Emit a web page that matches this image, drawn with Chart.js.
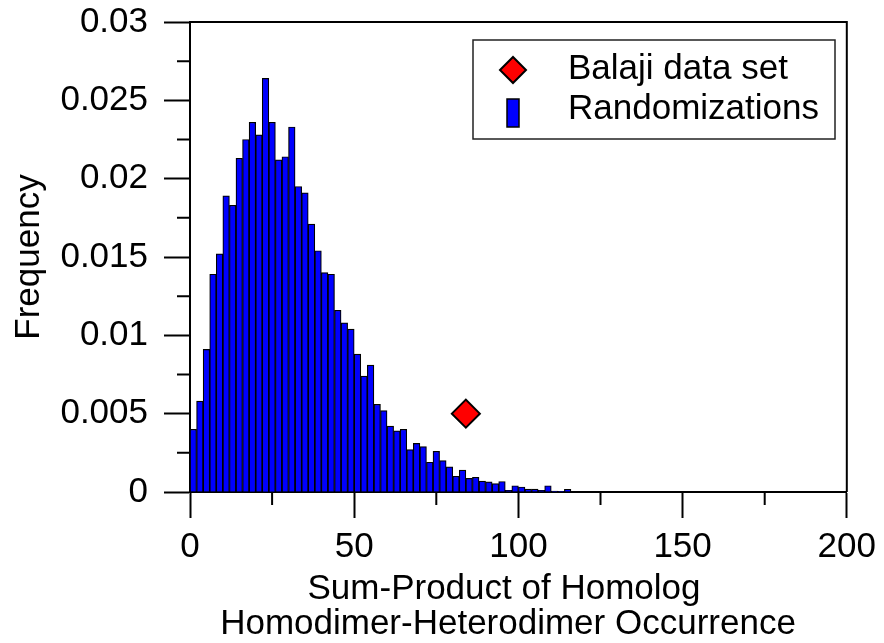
<!DOCTYPE html>
<html>
<head>
<meta charset="utf-8">
<script src="https://cdn.jsdelivr.net/npm/chart.js@4.4.1/dist/chart.umd.min.js"></script>
<style>
  html, body { margin: 0; padding: 0; background: #fff; }
  #wrap { width: 884px; height: 643px; }
</style>
</head>
<body>
<div id="wrap"><canvas id="chart" width="884" height="643"></canvas></div>
<script>
// histogram bins (width 2), centre of each bin
const binCenters = [
  1, 3, 5, 7, 9, 11, 13, 15, 17, 19,
  21, 23, 25, 27, 29, 31, 33, 35, 37, 39,
  41, 43, 45, 47, 49, 51, 53, 55, 57, 59,
  61, 63, 65, 67, 69, 71, 73, 75, 77, 79,
  81, 83, 85, 87, 89, 91, 93, 95, 97, 99,
  101, 103, 105, 107, 109, 111, 113, 115
];
// frequency of randomizations per bin
const randomFreq = [
  0.0040, 0.0058, 0.0091, 0.0139, 0.0152, 0.0189, 0.0183, 0.0213, 0.0225, 0.0236,
  0.0228, 0.0264, 0.0236, 0.0212, 0.0214, 0.0233, 0.0195, 0.0191, 0.0171, 0.0154,
  0.0140, 0.0139, 0.0116, 0.0108, 0.0104, 0.0088, 0.0074, 0.0081, 0.0056, 0.0052,
  0.0042, 0.0039, 0.0040, 0.0027, 0.0031, 0.0029, 0.0019, 0.0026, 0.0020, 0.0016,
  0.0010, 0.0014, 0.00087, 0.00094, 0.0007, 0.00065, 0.00053, 0.00067, 0.0001, 0.0004,
  0.00032, 0.00018, 0.00018, 0.0001, 0.0004, 0.00006, 0.00004, 0.00017
];
// the real data set
const balajiX = [84];
const balajiY = [0.005];

const xTicks = [0, 50, 100, 150, 200];
const xMinorTicks = [25, 75, 125, 175];
const yTicks = [0, 0.005, 0.01, 0.015, 0.02, 0.025, 0.03];
const yMinorTicks = [0.0025, 0.0075, 0.0125, 0.0175, 0.0225, 0.0275];
const xTitleLines = ['Sum-Product of Homolog', 'Homodimer-Heterodimer Occurrence'];

const FONT = "'Liberation Sans', Arial, sans-serif";
const FS = 35;
Chart.defaults.color = '#000';
Chart.defaults.font.family = FONT;

// minor ticks, top/right frame, x title and the boxed legend
const extras = {
  id: 'extras',
  afterDraw(chart) {
    const { ctx, chartArea: a, scales: { x, y } } = chart;
    ctx.save();
    ctx.strokeStyle = '#000';
    ctx.lineWidth = 2;
    ctx.beginPath();
    ctx.moveTo(a.left, a.top);
    ctx.lineTo(a.right, a.top);
    ctx.lineTo(a.right, a.bottom);
    yMinorTicks.forEach(v => {
      const py = y.getPixelForValue(v);
      ctx.moveTo(a.left - 13, py);
      ctx.lineTo(a.left, py);
    });
    xMinorTicks.forEach(v => {
      const px = x.getPixelForValue(v);
      ctx.moveTo(px, a.bottom);
      ctx.lineTo(px, a.bottom + 13);
    });
    ctx.stroke();

    // x axis title
    ctx.fillStyle = '#000';
    ctx.font = FS + 'px ' + FONT;
    ctx.textAlign = 'center';
    ctx.textBaseline = 'middle';
    ctx.fillText(xTitleLines[0], 504, 589);
    ctx.fillText(xTitleLines[1], 508, 624);

    // legend
    const ds = chart.data.datasets;
    ctx.lineWidth = 1.5;
    ctx.strokeStyle = '#222';
    ctx.strokeRect(473, 40, 362, 99);

    ctx.beginPath();
    ctx.moveTo(500, 70);
    ctx.lineTo(513, 57);
    ctx.lineTo(526, 70);
    ctx.lineTo(513, 83);
    ctx.closePath();
    ctx.fillStyle = ds[0].backgroundColor;
    ctx.fill();
    ctx.strokeStyle = '#000';
    ctx.lineWidth = 2;
    ctx.stroke();

    ctx.fillStyle = ds[1].backgroundColor;
    ctx.fillRect(507, 99, 12, 28);
    ctx.lineWidth = 1.5;
    ctx.strokeRect(507, 99, 12, 28);

    ctx.fillStyle = '#000';
    ctx.textBaseline = 'alphabetic';
    ctx.textAlign = 'left';
    ctx.fillText(ds[0].label, 568, 79);
    ctx.fillText(ds[1].label, 568, 119);
    ctx.restore();
  }
};

new Chart(document.getElementById('chart'), {
  type: 'bar',
  data: {
    datasets: [
      {
        type: 'scatter',
        label: 'Balaji data set',
        data: balajiX.map((v, i) => ({ x: v, y: balajiY[i] })),
        pointStyle: 'rectRot',
        pointRadius: 14,
        backgroundColor: '#ff0000',
        borderColor: '#000',
        borderWidth: 2,
        order: 0
      },
      {
        label: 'Randomizations',
        data: binCenters.map((v, i) => ({ x: v, y: randomFreq[i] })),
        backgroundColor: '#0000ff',
        borderColor: '#000',
        borderWidth: 1.2,
        barPercentage: 1,
        categoryPercentage: 1,
        order: 1
      }
    ]
  },
  options: {
    responsive: false,
    animation: false,
    layout: { padding: { top: 22, right: 37, left: 0, bottom: 0 } },
    plugins: { legend: { display: false }, tooltip: { enabled: false } },
    scales: {
      x: {
        type: 'linear',
        min: 0,
        max: 200,
        offset: false,
        afterFit: s => { s.height = 151; },
        afterBuildTicks: s => { s.ticks = xTicks.map(v => ({ value: v })); },
        grid: { offset: false, drawOnChartArea: false, tickLength: 26, tickWidth: 2, tickColor: '#000' },
        border: { color: '#000', width: 2 },
        ticks: { font: { size: FS }, padding: 8, maxRotation: 0, autoSkip: false },
        title: { display: false }
      },
      y: {
        min: 0,
        max: 0.03,
        afterFit: s => { s.width = 190; s.paddingTop = 0; s.paddingBottom = 0; },
        afterBuildTicks: s => { s.ticks = yTicks.map(v => ({ value: v })); },
        grid: { drawOnChartArea: false, tickLength: 26, tickWidth: 2, tickColor: '#000' },
        border: { color: '#000', width: 2 },
        ticks: {
          font: { size: FS },
          padding: 16,
          callback: v => String(+v.toFixed(4))
        },
        title: {
          display: true,
          text: 'Frequency',
          font: { size: FS, lineHeight: 1 },
          padding: { top: 12, bottom: 0 }
        }
      }
    }
  },
  plugins: [extras]
});
</script>
</body>
</html>
